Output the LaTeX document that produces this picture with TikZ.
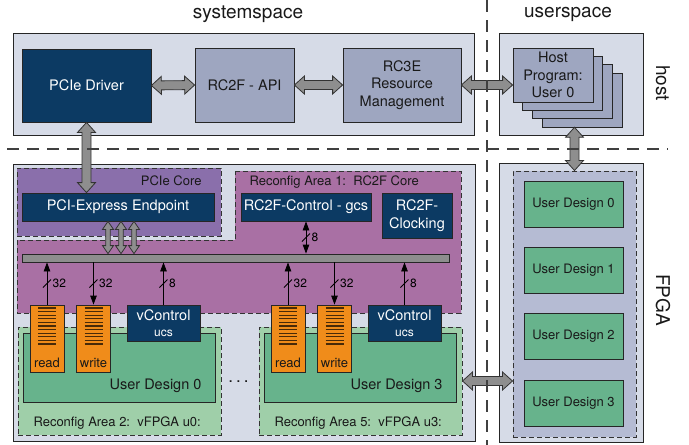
\documentclass[tikz,border=0pt]{standalone}
\usepackage{fontspec}
\setmainfont{TeX Gyre Heros}
\usetikzlibrary{calc,arrows.meta}

\definecolor{panel}{HTML}{D6DBE7}
\definecolor{navy}{HTML}{0C3A63}
\definecolor{slate}{HTML}{9EA6C0}
\definecolor{pciecore}{HTML}{8A6FAB}
\definecolor{rcarea}{HTML}{A970A4}
\definecolor{vfpga}{HTML}{9FCFA9}
\definecolor{design}{HTML}{67B38C}
\definecolor{fifo}{HTML}{F08C1A}
\definecolor{usrarea}{HTML}{B5BBD3}
\definecolor{arrgray}{HTML}{8E8E8E}

% fat double arrow between two named points
\def\headw{9pt}\def\shaftw{4.5pt}\def\headl{10pt}
\newcommand{\fatarrow}[2]{%
  \filldraw[fill=arrgray, draw=black!80, line width=.8pt, line join=miter] (#1)
    -- ($(#1)!\headl!(#2)!\headw!90:(#2)$) -- ($(#1)!\headl!(#2)!\shaftw!90:(#2)$)
    -- ($(#2)!\headl!(#1)!\shaftw!-90:(#1)$) -- ($(#2)!\headl!(#1)!\headw!-90:(#1)$)
    -- (#2)
    -- ($(#2)!\headl!(#1)!\headw!90:(#1)$) -- ($(#2)!\headl!(#1)!\shaftw!90:(#1)$)
    -- ($(#1)!\headl!(#2)!\shaftw!-90:(#2)$) -- ($(#1)!\headl!(#2)!\headw!-90:(#2)$)
    -- cycle;}

\begin{document}
\begin{tikzpicture}[x=1pt, y=-1pt,
        box/.style={draw=black!85, line width=.8pt, inner sep=0pt, text=black!90},
        panelbox/.style={box, fill=panel},
        navybox/.style={box, fill=navy, text=white, align=center, txtmid},
        slatebox/.style={box, fill=slate, align=center, txtmid},
        fifobox/.style={box, fill=fifo, minimum width=34, minimum height=67},
        area/.style={draw=black!80, line width=1pt, dash pattern=on 5pt off 3pt, inner sep=0pt},
        sep/.style={draw=black!75, line width=1.2pt, dash pattern=on 12pt off 8pt},
        txtbig/.style={font=\fontsize{19}{22}\selectfont, text=black!90},
        txtmid/.style={font=\fontsize{14.5}{17.5}\selectfont},
        txtsml/.style={font=\fontsize{13}{15}\selectfont, text=black!90},
        txtbus/.style={font=\fontsize{12}{14}\selectfont, inner sep=0pt},
        wireup/.style={line width=.8pt, {Triangle[length=9pt,width=6.5pt]}-},
        wiredown/.style={line width=.8pt, -{Triangle[length=9pt,width=6.5pt]}},
        wireboth/.style={line width=.8pt, {Triangle[length=9pt,width=6.5pt]}-{Triangle[length=9pt,width=6.5pt]}},
        slash/.style={line width=.8pt},
        fifoline/.style={draw=black!70!fifo, line width=1.3pt}]
    \useasboundingbox (0,0) rectangle (689,445);

    \node[txtbig] (sys) at (248,14) {systemspace};
    \node[txtbig] (usr) at (568,14) {userspace};
    \node[txtbig, rotate=-90] (hostlbl) at (663,83) {host};
    \node[txtbig, rotate=-90] (fpgalbl) at (663,300) {FPGA};

    % host side
    \node[panelbox, minimum width=461, minimum height=102] (hostsys) at (243.5,84) {};
    \node[navybox, minimum width=129, minimum height=73] (drv) at (86.5,85.5) {PCIe Driver};
    \node[slatebox, minimum width=99, minimum height=74] (api) at (244.5,85) {RC2F - API};
    \node[slatebox, minimum width=118, minimum height=74] (rc3e) at (402,85) {RC3E\\Resource\\Management};
    \node[panelbox, minimum width=144, minimum height=102] (hostusr) at (571,84) {};
    \foreach \k in {3,2,1}
        \node[slatebox, minimum width=80, minimum height=54] (prog\k) at ({553+\k*9.7},{75+\k*8.3}) {};
    \node[slatebox, minimum width=80, minimum height=54] (prog) at (553,75) {Host\\Program:\\User 0};

    % fpga side
    \node[panelbox, minimum width=462, minimum height=277] (fpgasys) at (244,302.5) {};
    \node[area, fill=pciecore, minimum width=204, minimum height=68] (pcie) at (119,202) {};
    \node[txtsml, anchor=base east] (pcielbl) at (205,185.5) {PCIe Core};
    \draw[area, fill=rcarea] (235,171) -- (461,171) -- (461,313) -- (17,313) -- (17,240) -- (235,240) -- cycle;
    \node[txtsml, anchor=base west] (ra1lbl) at (246,185.5) {Reconfig Area 1:\ \ RC2F Core};
    \node[navybox, minimum width=192, minimum height=28] (ep) at (118,207) {PCI-Express Endpoint};
    \node[navybox, minimum width=130, minimum height=28] (ctrl) at (306,207) {RC2F-Control - gcs};
    \node[navybox, minimum width=70, minimum height=45] (clk) at (417,215.5) {RC2F-\\Clocking};
    \node[box, fill=arrgray, minimum width=427, minimum height=8] (bus) at (235.5,258) {};

    \foreach \u/\r/\dx in {0/2/0, 3/5/241} {
            \node[area, fill=vfpga, minimum width=203, minimum height=108] (ra\r) at (119.5+\dx,381) {};
            \node[box, fill=design, minimum width=192, minimum height=69] (ud\u) at (119+\dx,367.5) {};
            \node[txtmid, anchor=base east, text=black!90] (udl\u) at (205+\dx,389) {User Design \u};
            \node[txtsml, anchor=base west] (ral\r) at (30+\dx,426.5) {Reconfig Area \r:\ \ vFPGA u\u:};
            \node[fifobox] (rd\u) at (47+\dx,338.5) {};
            \node[fifobox] (wr\u) at (93.5+\dx,338.5) {};
            \node[txtsml, anchor=base] (rdl\u) at (47+\dx,367) {read};
            \node[txtsml, anchor=base] (wrl\u) at (93.5+\dx,367) {write};
            \node[navybox, minimum width=73, minimum height=36] (vc\u) at (163.5+\dx,323)
                {vControl\\[-2pt]{\fontsize{12}{14}\selectfont ucs}};
        }
    \node[anchor=base, font=\fontsize{17}{20}\selectfont, text=black!90] (dots) at (238.5,382)
        {.\hspace{3pt}.\hspace{3pt}.};

    % fifo lines
    \foreach \n in {rd0, wr0, rd3, wr3} {
            \foreach \k in {0,...,10} {
                    \draw[fifoline] ([shift={(-9,-30.5+\k*3.6)}]\n.center) -- ++(18,0);
                }
        }

    % bus wires
    \foreach \n/\bits/\dir in {rd0/32/up, wr0/32/down, vc0/8/up, rd3/32/up, wr3/32/down, vc3/8/up} {
            \draw[wire\dir] (\n.north |- bus.south) -- coordinate (m\n) (\n.north);
            \draw[slash] ([shift={(-4,4)}]m\n) -- ([shift={(4,-4)}]m\n);
            \node[txtbus, anchor=west] (bl\n) at ([xshift=5.5]m\n) {\bits};
        }
    \draw[wireboth] (ctrl.south) -- coordinate (mctrl) (ctrl.south |- bus.north);
    \draw[slash] ([shift={(-4,4)}]mctrl) -- ([shift={(4,-4)}]mctrl);
    \node[txtbus, anchor=west] (blctrl) at ([xshift=5.5]mctrl) {8};

    % userspace fpga
    \node[panelbox, minimum width=144, minimum height=279] (fpgausr) at (571,302.5) {};
    \node[area, fill=usrarea, minimum width=123, minimum height=266] (usrarea) at (574.5,304) {};
    \foreach \i/\y in {0/204, 1/270, 2/336, 3/403}
        \node[box, fill=design, txtsml, minimum width=99, minimum height=46] (usr\i) at (573.5,\y) {User Design \i};

    % fat arrows
    \coordinate (c1) at (rc3e.east -| prog.west);
    \coordinate (c2) at (drv.south |- ep.north);
    \coordinate (c3) at (usrarea.north |- prog3.south);
    \coordinate (c4) at (ra5.east -| usrarea.west);
    \fatarrow{drv.east}{api.west}
    \fatarrow{api.east}{rc3e.west}
    \fatarrow{rc3e.east}{c1}
    \fatarrow{drv.south}{c2}
    \fatarrow{c3}{usrarea.north}
    \fatarrow{ra5.east}{c4}
    \begin{scope}
        \def\headw{5.5pt}\def\shaftw{2.3pt}\def\headl{8pt}
        \foreach \dx [count=\i] in {-10,3,16} {
                \coordinate (t\i) at ([xshift=\dx]ep.south);
                \coordinate (b\i) at (t\i |- bus.north);
                \fatarrow{t\i}{b\i}
            }
    \end{scope}

    \draw[sep] (487,0) -- (487,445);
    \draw[sep] (7,149) -- (668,149);
\end{tikzpicture}
\end{document}
